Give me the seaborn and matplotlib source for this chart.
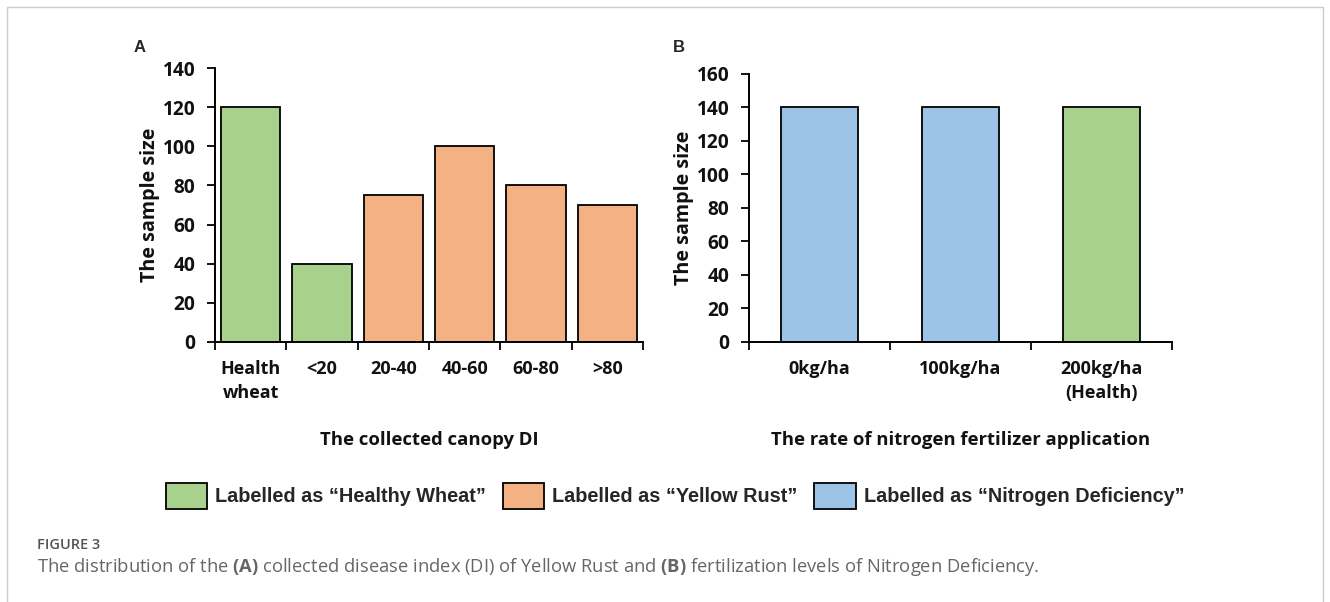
import numpy as np
import pandas as pd
import matplotlib
matplotlib.use('Agg')
import matplotlib.pyplot as plt
import seaborn as sns
from matplotlib.patches import Patch, Rectangle

# --- data ---
a_groups = ['Health\nwheat', '<20', '20-40', '40-60', '60-80', '>80']
a_counts = [120, 40, 75, 100, 80, 70]
a_class = ['Healthy', 'Healthy', 'Yellow', 'Yellow', 'Yellow', 'Yellow']

b_groups = ['0kg/ha', '100kg/ha', '200kg/ha\n(Health)']
b_counts = [140, 140, 140]
b_class = ['Nitrogen', 'Nitrogen', 'Healthy']

palette = {'Healthy': '#A9D18E', 'Yellow': '#F4B183', 'Nitrogen': '#9DC3E6'}
legend_labels = {'Healthy': 'Labelled as \u201cHealthy Wheat\u201d',
                 'Yellow': 'Labelled as \u201cYellow Rust\u201d',
                 'Nitrogen': 'Labelled as \u201cNitrogen Deficiency\u201d'}

sns.set_theme(style='ticks')
plt.rcParams['font.family'] = ['Open Sans', 'DejaVu Sans']
plt.rcParams['mathtext.fontset'] = 'custom'
plt.rcParams['mathtext.rm'] = 'Open Sans'
plt.rcParams['mathtext.bf'] = 'Open Sans:bold'

fig = plt.figure(figsize=(13.3, 6.02), dpi=100)
ax_a = fig.add_axes([0.1617, 0.4319, 0.3218, 0.4551])
ax_b = fig.add_axes([0.5632, 0.4319, 0.3180, 0.4452])


def draw_panel(ax, groups, counts, classes, width, ymax, xlabel):
    df = pd.DataFrame({'group': groups, 'count': counts, 'label': classes})
    sns.barplot(data=df, x='group', y='count', hue='label', palette=palette,
                dodge=False, width=width, edgecolor='black', linewidth=1.3,
                saturation=1, legend=False, ax=ax, order=groups)
    n = len(groups)
    ax.set_xlim(-0.5, n - 0.5)
    ax.set_ylim(0, ymax)
    ax.set_yticks(np.arange(0, ymax + 1, 20))
    ax.set_xticks(np.arange(-0.5, n, 1), minor=True)
    ax.tick_params(axis='x', which='major', length=0, pad=13)
    ax.tick_params(axis='x', which='minor', length=6, width=1.3, direction='out', color='black')
    ax.tick_params(axis='y', length=6, width=1.3, direction='out', color='black', pad=8)
    for lbl in ax.get_xticklabels():
        lbl.set_fontsize(13)
        lbl.set_fontweight('bold')
        lbl.set_color('#111111')
        lbl.set_linespacing(1.4)
    for lbl in ax.get_yticklabels():
        lbl.set_fontsize(13.8)
        lbl.set_fontweight('bold')
        lbl.set_color('#111111')
    for s in ['top', 'right']:
        ax.spines[s].set_visible(False)
    for s in ['left', 'bottom']:
        ax.spines[s].set_linewidth(1.4)
        ax.spines[s].set_color('black')
    ax.set_xlabel(xlabel, fontsize=13.3, fontweight='bold', labelpad=21, color='#111111')
    ax.set_ylabel('The sample size', fontsize=14.2, fontweight='bold', labelpad=2, color='#111111')


draw_panel(ax_a, a_groups, a_counts, a_class, 0.83, 140, 'The collected canopy DI')
draw_panel(ax_b, b_groups, b_counts, b_class, 0.55, 160,
           'The rate of nitrogen fertilizer application')

fig.text(140 / 1330, 1 - 47 / 602, 'A', fontsize=12, fontweight='bold',
         family='Liberation Sans', ha='center', va='center')
fig.text(679 / 1330, 1 - 47 / 602, 'B', fontsize=12, fontweight='bold',
         family='Liberation Sans', ha='center', va='center')

# legend under both panels
handles = [Patch(facecolor=palette[k], edgecolor='black', linewidth=1.3)
           for k in ['Healthy', 'Yellow', 'Nitrogen']]
labels = [legend_labels[k] for k in ['Healthy', 'Yellow', 'Nitrogen']]
fig.legend(handles, labels, loc='center', bbox_to_anchor=(0.5075, 1 - 496 / 602),
           ncol=3, frameon=False, handlelength=2.1, handleheight=1.65,
           handletextpad=0.38, columnspacing=0.85,
           prop={'family': 'Liberation Sans', 'weight': 'bold', 'size': 14.3})

# caption + frame
fig.text(37 / 1330, 1 - 545 / 602, 'FIGURE 3', fontsize=10.5, family='Open Sans',
         fontweight='semibold', color='#555555', va='center')
fig.text(37 / 1330, 1 - 567 / 602,
         r'The distribution of the $\mathbf{(A)}$ collected disease index (DI) of Yellow Rust '
         r'and $\mathbf{(B)}$ fertilization levels of Nitrogen Deficiency.',
         fontsize=13.2, family='Open Sans', color='#666666', va='center')
fig.patches.append(Rectangle((7 / 1330, -0.05), 1316 / 1330, 1.05 - 7 / 602,
                             transform=fig.transFigure, fill=False,
                             edgecolor='#cccccc', linewidth=1))

fig.savefig('out.png', dpi=100)
